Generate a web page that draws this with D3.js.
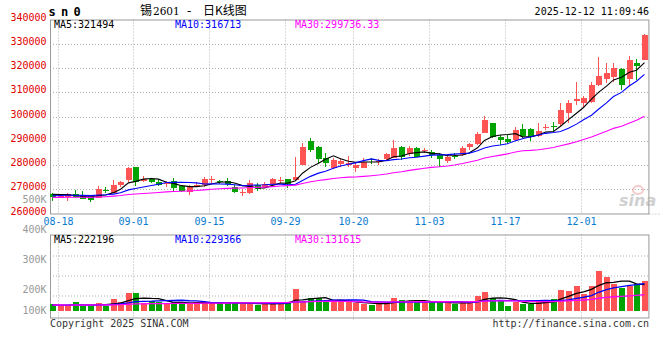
<!DOCTYPE html>
<html><head><meta charset="utf-8">
<script src="https://cdn.jsdelivr.net/npm/d3@7"></script>
<style>html,body{margin:0;padding:0;background:#fff;}svg{display:block;}</style>
</head><body>
<svg id="c" width="660" height="360"></svg>
<script>
// ---------- data ----------
const dates = ["08-18","08-19","08-20","08-21","08-22","08-25","08-26","08-27","08-28","08-29",
"09-01","09-02","09-03","09-04","09-05","09-08","09-09","09-10","09-11","09-12",
"09-15","09-16","09-17","09-18","09-19","09-22","09-23","09-24","09-25","09-26",
"09-29","09-30","10-09","10-10","10-13","10-14","10-15","10-16","10-17",
"10-20","10-21","10-22","10-23","10-24","10-27","10-28","10-29","10-30","10-31",
"11-03","11-04","11-05","11-06","11-07","11-10","11-11","11-12","11-13","11-14",
"11-17","11-18","11-19","11-20","11-21","11-24","11-25","11-26","11-27","11-28",
"12-01","12-02","12-03","12-04","12-05","12-08","12-09","12-10","12-11","12-12"];
const openP = [268000,266500,266900,268000,267500,267200,266500,269800,268600,271700,
273800,279300,273500,274200,273100,272300,273400,271500,269000,271600,
271800,274100,273300,273400,271100,268700,268300,271800,270800,272200,
273700,274200,273800,280000,289900,287600,283000,278900,280300,
280000,278600,278900,282500,281300,282500,283000,287600,284400,286900,
285800,285500,284100,281800,283900,284100,287300,288700,293300,297200,
291700,290700,290300,294700,294800,292000,295400,296200,296900,301300,
306400,305400,306100,313000,315500,316400,319400,315300,322200,323400];
const highP = [268300,267600,268300,269700,269300,267600,271300,271100,273800,273500,
279300,279300,275500,274800,273800,273500,274800,271800,271800,272900,
275200,275500,273800,274500,271800,270000,273800,272400,273100,274500,
275200,274300,283400,288900,291300,288000,284800,282800,282800,
283700,280700,282800,282800,282300,285100,290300,288000,288000,287300,
286900,286200,285100,284100,284800,287800,288900,293700,300200,297500,
292400,292400,295500,296800,295100,297200,296800,297600,305400,306800,
314400,308500,314400,324700,321900,321900,320100,325000,323600,334000];
const lowP = [265200,266200,265300,266300,265800,264700,266200,268300,268300,271100,
273100,271300,273100,272400,271500,271100,269000,269000,267800,271100,
271100,272700,272200,271300,268300,267200,268000,269400,270400,271800,
272700,270400,273700,280000,285500,280700,279300,278200,279300,
279300,277300,278600,280400,280000,281700,282800,282100,283700,283200,
285100,283000,279300,281000,282500,283700,286200,288300,293300,291000,
288200,288700,290000,291000,290000,291700,294400,293700,296100,297500,
304800,303600,305700,312700,314000,314400,310900,312600,315100,323400];
const closeP = [266800,267300,268200,266900,266100,265600,270000,269600,271700,273000,
278900,273100,274100,273100,271700,272500,270700,269400,271100,271800,
274200,274300,273100,272200,269000,268900,272700,270000,272200,274200,
273900,272200,275200,287600,286200,282300,280700,282100,281600,
281000,280000,281400,282300,281500,284500,287200,283200,287200,283400,
286000,284100,282300,283400,283700,287200,288500,292600,298600,291700,
290300,289600,294400,292000,291700,294000,295700,295800,302700,305400,
307200,307500,313000,316700,318100,320100,313000,323300,321000,333600];
const volume = [58000,44000,44000,72000,44000,44000,64000,42000,100000,75000,
150000,150000,64000,83000,72000,61000,78000,61000,61000,72000,
75000,64000,67000,67000,75000,61000,61000,47000,64000,64000,
75000,67000,183000,72000,108000,108000,83000,75000,78000,
78000,64000,56000,50000,64000,72000,108000,89000,83000,78000,
72000,72000,72000,67000,56000,75000,67000,125000,158000,108000,
89000,44000,72000,58000,58000,83000,83000,100000,175000,167000,
208000,142000,208000,336000,283000,222000,194000,208000,225000,250000];
// closes / volumes of the 29 sessions before 08-18 (only used for the moving averages)
const priorCloses = [267500,266800,265900,266400,267200,266100,265300,264800,265600,266300,
266900,267400,266700,265800,265200,266000,266800,267100,266500,265900,
266200,266900,267300,266500,266600,267600,268400,268900,267800];
const priorVolumes = [48000,52000,55000,47000,50000,53000,49000,46000,51000,54000,
50000,48000,52000,49000,47000,53000,51000,50000,48000,47000,
50000,54000,52000,49000,55000,47000,44000,46000,45000];
const priceTicks = [260000,270000,280000,290000,300000,310000,320000,330000,340000];
const volTicks = [500000,400000,300000,200000,100000];
const dateTicks = ["08-18","09-01","09-15","09-29","10-20","11-03","11-17","12-01"];
const maPeriods = [5,10,30];
const maColors = ["#000000","#0000ff","#ff00ff"];
const priceMaTexts = ["MA5:321494","MA10:316713","MA30:299736.33"];
const volMaTexts = ["MA5:222196","MA10:229366","MA30:131615"];
const titleParts = ["锡", "2601", "-", "日K线图"];

// ---------- layout ----------
const svg = d3.select("#c");
const L = 50, R = 649.4;
const mainTop = 19.5, mainBot = 213.5;
const volTop = 234.5, volBot = 317.5;
const RED = "#ff5454", GREEN = "#00a300";
const MONO = "'DejaVu Sans Mono', monospace";

const x = d3.scaleBand().domain(dates).range([L, R]).paddingInner(0).paddingOuter(0);
const step = x.step();
const y = d3.scaleLinear().domain([260000, 340000]).range([mainBot, mainTop]);
const yv = d3.scaleLinear().domain([0, 400000]).range([311, 263]);
const yvLabel = d3.scaleLinear().domain([200000, 500000]).range([293.3, 203.3]);

function ma(series, prior, n) {
  const all = prior.concat(series);
  return series.map((_, i) => d3.mean(all.slice(i + prior.length - n + 1, i + prior.length + 1)));
}
const bx = d => Math.round(x(d));
const cx = d => Math.round(x(d)) + 3;
const data = dates.map((d, i) => ({d, o: openP[i], h: highP[i], l: lowP[i], c: closeP[i], v: volume[i]}));

// ---------- grid ----------
const grid = svg.append("g").attr("stroke", "#b0b0b0").attr("stroke-dasharray", "1,2").attr("stroke-width", 1);
priceTicks.slice(1, -1).forEach(t => {
  const yy = Math.round(y(t)) + 0.5;
  grid.append("line").attr("x1", L).attr("x2", R).attr("y1", yy).attr("y2", yy);
});
[21, 41, 61].forEach(o => {
  const yy = volTop + o + 0.5;
  grid.append("line").attr("x1", L).attr("x2", R).attr("y1", yy).attr("y2", yy);
});
dateTicks.forEach(t => {
  const xx = Math.round(x(t) + step) + 0.5;
  grid.append("line").attr("x1", xx).attr("x2", xx).attr("y1", mainTop).attr("y2", mainBot);
  grid.append("line").attr("x1", xx).attr("x2", xx).attr("y1", volTop).attr("y2", volBot + 3);
});
grid.append("line").attr("x1", R).attr("x2", 660).attr("y1", mainBot + 0.5).attr("y2", mainBot + 0.5);

// ---------- frames ----------
svg.append("rect").attr("x", L + 0.5).attr("y", mainTop + 0.5).attr("width", R - L - 1).attr("height", mainBot - mainTop)
  .attr("fill", "none").attr("stroke", "#999");
svg.append("rect").attr("x", L + 0.5).attr("y", volTop + 0.5).attr("width", R - L - 1).attr("height", volBot - volTop)
  .attr("fill", "none").attr("stroke", "#999");

// ---------- watermark ----------
const wm = svg.append("g").attr("opacity", 0.55);
wm.append("ellipse").attr("cx", 638).attr("cy", 190).attr("rx", 5).attr("ry", 4).attr("fill", "none").attr("stroke", "#f0a0a0").attr("stroke-width", 2);
wm.append("text").attr("x", 619).attr("y", 206).text("sina")
  .attr("font-family", "'DejaVu Sans', sans-serif").attr("font-size", 16).attr("font-style", "italic").attr("font-weight", "bold").attr("fill", "#aaa");

// ---------- candles ----------
const cg = svg.append("g").attr("shape-rendering", "crispEdges");
data.forEach(p => {
  const col = p.c >= p.o ? RED : GREEN;
  const xx = cx(p.d) - 0.5;
  cg.append("line").attr("x1", xx).attr("x2", xx).attr("y1", y(p.h)).attr("y2", y(p.l)).attr("stroke", col).attr("stroke-width", 1);
  const top = y(Math.max(p.o, p.c)), bot = y(Math.min(p.o, p.c));
  cg.append("rect").attr("x", bx(p.d)).attr("width", 6).attr("y", top).attr("height", Math.max(1, bot - top)).attr("fill", col);
});

// ---------- volume bars ----------
const vg = svg.append("g").attr("shape-rendering", "crispEdges");
data.forEach(p => {
  const col = p.c >= p.o ? RED : GREEN;
  vg.append("rect").attr("x", bx(p.d)).attr("width", 6).attr("y", yv(p.v)).attr("height", yv(0) - yv(p.v)).attr("fill", col);
});

// ---------- moving averages ----------
maPeriods.forEach((n, k) => {
  const m = ma(closeP, priorCloses, n);
  svg.append("path").datum(m).attr("fill", "none").attr("stroke", maColors[k]).attr("stroke-width", 1.1)
    .attr("d", d3.line().x((v, i) => cx(dates[i]) - 0.5).y(v => y(v)));
  const mv = ma(volume, priorVolumes, n);
  svg.append("path").datum(mv).attr("fill", "none").attr("stroke", maColors[k]).attr("stroke-width", 1.3)
    .attr("d", d3.line().x((v, i) => cx(dates[i]) - 0.5).y(v => yv(v)));
});

// ---------- axis labels ----------
const txt = (xx, yy, s, fill, anchor, size) => svg.append("text").attr("x", xx).attr("y", yy).text(s)
  .attr("font-family", MONO).attr("font-size", size || 10).attr("fill", fill).attr("text-anchor", anchor || "start");
priceTicks.forEach(t => txt(46.5, Math.min(y(t) + 1, 216), String(t), "#e00000", "end"));
volTicks.forEach(t => txt(46.5, Math.min(yvLabel(t), 314), (t / 1000) + "K", "#999", "end"));
dateTicks.forEach(t => txt(Math.round(x(t) + step) + 0.5, 225, t, "#0a7ad0", "middle"));

// MA headers
const maX = [54, 175, 295];
priceMaTexts.forEach((s, k) => txt(maX[k], 27.5, s, maColors[k]));
volMaTexts.forEach((s, k) => txt(maX[k], 242.5, s, maColors[k]));

// titles
svg.append("text").attr("x", 48.5).attr("y", 15.5).text("s n 0")
  .attr("font-family", MONO).attr("font-size", 12).attr("font-weight", "bold").attr("fill", "#000")
  .attr("letter-spacing", -1);
const tX = [140, 153, 187, 203];
const tFont = ["'Noto Sans CJK SC', sans-serif", "'DejaVu Serif', serif", "'DejaVu Sans', sans-serif", "'Noto Sans CJK SC', sans-serif"];
const tSize = [12, 10.5, 12, 12];
titleParts.forEach((s, k) => svg.append("text").attr("x", tX[k]).attr("y", 15).text(s)
  .attr("font-family", tFont[k]).attr("font-size", tSize[k]).attr("fill", "#000"));
txt(649, 15, "2025-12-12 11:09:46", "#000", "end");
txt(50, 327, "Copyright 2025 SINA.COM", "#333");
txt(649, 327, "http://finance.sina.com.cn", "#333", "end");
</script>
</body></html>
